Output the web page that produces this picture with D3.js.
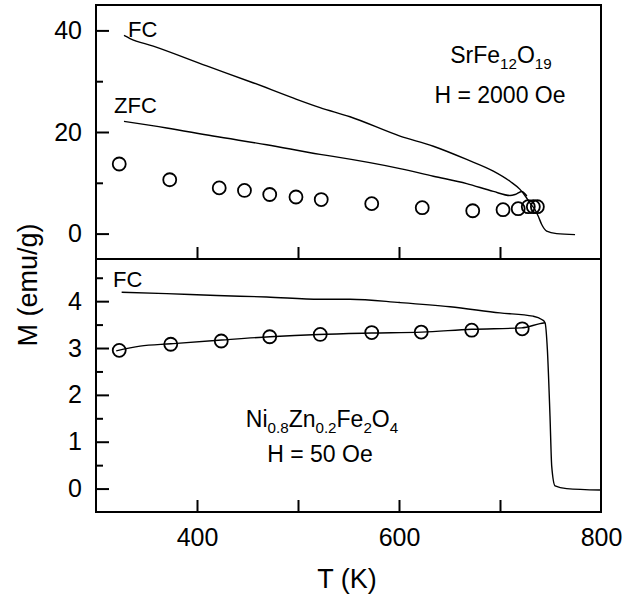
<!DOCTYPE html>
<html>
<head>
<meta charset="utf-8">
<script src="https://cdn.jsdelivr.net/npm/d3@7"></script>
<style>
  body { margin: 0; background: #fff; }
  svg text { font-family: 'Liberation Sans', Arial, Helvetica, sans-serif; fill: #000; }
</style>
</head>
<body>
<div id="graph"></div>
<script>
// SrFe12O19, H = 2000 Oe (upper panel)
const srFcT = [327.7, 333.7, 356.7, 409.6, 455.4, 495, 521.8, 551.5, 601, 634, 667, 693.4, 709.9, 719.8, 725.7, 729.7, 734.7, 737.9, 741.3, 746.2, 756.1, 774.3]
const srFcM = [39.0, 38.4, 36.9, 33.0, 29.7, 26.7, 24.8, 23.0, 19.2, 17.2, 14.6, 12.3, 10.3, 8.7, 7.2, 6.0, 4.7, 3.4, 1.8, 0.5, 0.0, -0.2]
const srZfcT = [327.7, 370, 415.8, 469, 521.8, 534.7, 601, 634, 667, 693.4, 709.9, 714.9, 721.5, 726.6]
const srZfcM = [22.1, 20.8, 19.2, 17.5, 15.6, 15.2, 12.8, 11.3, 9.85, 8.3, 7.5, 7.7, 8.3, 7.4]
const srDotT = [323, 373, 422, 447, 472, 498, 523, 573, 623, 673, 703, 718, 728, 733, 737]
const srDotM = [13.7, 10.6, 9.0, 8.5, 7.7, 7.2, 6.7, 5.9, 5.1, 4.5, 4.7, 4.9, 5.3, 5.3, 5.3]

// Ni0.8Zn0.2Fe2O4, H = 50 Oe (lower panel)
const niFcT = [325.4, 370, 419.5, 469, 521.8, 551.5, 601, 650.5, 700, 732.7, 741.3, 744.6, 746.9, 749.5, 751.2, 754.5, 766, 799]
const niFcM = [4.19, 4.16, 4.12, 4.09, 4.04, 4.04, 3.97, 3.88, 3.75, 3.68, 3.61, 3.54, 2.97, 1.55, 0.48, 0.06, 0.0, -0.03]
const niZfcT = [320, 343.6, 374.3, 424.5, 472.3, 520.1, 573, 622.5, 672, 721.5, 739.6, 744.6]
const niZfcM = [2.94, 3.04, 3.09, 3.17, 3.24, 3.29, 3.32, 3.34, 3.40, 3.43, 3.52, 3.54]
const niDotT = [323, 374, 424, 472, 522, 573, 622, 672, 722]
const niDotM = [2.95, 3.08, 3.15, 3.24, 3.29, 3.33, 3.34, 3.38, 3.41]

// ticks
const xTicks = [400, 500, 600, 700]
const xLabels = [400, 600, 800]
const topMajor = [0, 20, 40]
const topMinor = [10, 30]
const botMajor = [0, 1, 2, 3, 4]
const botMinor = [0.5, 1.5, 2.5, 3.5, 4.5]

const width = 634; const height = 603
const plotLeft = 96; const plotRight = 601; const plotTop = 5; const plotMid = 259; const plotBottom = 512

const svg = d3.select('#graph').append('svg')
  .attr('width', width).attr('height', height)

const x = d3.scaleLinear().domain([300, 800]).range([plotLeft, plotRight])
const yTop = d3.scaleLinear().domain([-5, 45]).range([plotMid, plotTop])
const yBot = d3.scaleLinear().domain([-0.5, 4.9]).range([plotBottom, plotMid])

// frames first, everything else on top
svg.append('rect').attr('x', plotLeft).attr('y', plotTop)
  .attr('width', plotRight - plotLeft).attr('height', plotMid - plotTop)
  .style('fill', 'none').attr('stroke', '#000').attr('stroke-width', 2)
svg.append('rect').attr('x', plotLeft).attr('y', plotMid)
  .attr('width', plotRight - plotLeft).attr('height', plotBottom - plotMid)
  .style('fill', 'none').attr('stroke', '#000').attr('stroke-width', 2)

// axes: inward ticks, labels outside
function styleAxis (g) {
  g.select('.domain').remove()
  g.selectAll('.tick line').attr('stroke', '#000').attr('stroke-width', 2)
  g.selectAll('.tick text').style('font-size', '25px').attr('fill', '#000')
}
const fmt = d3.format('d')
svg.append('g').attr('transform', 'translate(' + plotLeft + ',0)')
  .call(d3.axisLeft(yTop).tickValues(topMajor).tickSize(-13).tickPadding(14).tickFormat(fmt))
  .call(styleAxis)
svg.append('g').attr('transform', 'translate(' + plotLeft + ',0)')
  .call(d3.axisLeft(yTop).tickValues(topMinor).tickSize(-7).tickFormat(''))
  .call(styleAxis)
svg.append('g').attr('transform', 'translate(0,' + plotMid + ')')
  .call(d3.axisBottom(x).tickValues(xTicks).tickSize(-12).tickFormat(''))
  .call(styleAxis)
svg.append('g').attr('transform', 'translate(' + plotLeft + ',0)')
  .call(d3.axisLeft(yBot).tickValues(botMajor).tickSize(-13).tickPadding(14).tickFormat(fmt))
  .call(styleAxis)
svg.append('g').attr('transform', 'translate(' + plotLeft + ',0)')
  .call(d3.axisLeft(yBot).tickValues(botMinor).tickSize(-7).tickFormat(''))
  .call(styleAxis)
svg.append('g').attr('transform', 'translate(0,' + plotBottom + ')')
  .call(d3.axisBottom(x).tickValues(xTicks).tickSize(-12).tickFormat(''))
  .call(styleAxis)
svg.append('g').attr('transform', 'translate(0,' + plotBottom + ')')
  .call(d3.axisBottom(x).tickValues(xLabels).tickSize(0).tickPadding(16).tickFormat(fmt))
  .call(styleAxis)

// curves
function drawCurve (ts, ms, y) {
  const line = d3.line().x(d => x(d[0])).y(d => y(d[1])).curve(d3.curveMonotoneX)
  svg.append('path').datum(d3.zip(ts, ms))
    .attr('d', line).attr('fill', 'none')
    .attr('stroke', '#000').attr('stroke-width', 1.4)
}
function drawDots (ts, ms, y) {
  svg.append('g').selectAll('circle')
    .data(d3.zip(ts, ms)).enter().append('circle')
    .attr('cx', d => x(d[0])).attr('cy', d => y(d[1])).attr('r', 6.5)
    .attr('fill', 'none').attr('stroke', '#000').attr('stroke-width', 1.8)
}

drawCurve(srFcT, srFcM, yTop)
drawCurve(srZfcT, srZfcM, yTop)
drawDots(srDotT, srDotM, yTop)
drawCurve(niFcT, niFcM, yBot)
drawCurve(niZfcT, niZfcM, yBot)
drawDots(niDotT, niDotM, yBot)

// annotations
function label (tx, ty, parts, size, anchor) {
  const t = svg.append('text').attr('x', tx).attr('y', ty)
    .attr('text-anchor', anchor || 'start').style('font-size', size + 'px')
  let shifted = false
  parts.forEach(p => {
    const sub = typeof p !== 'string'
    const s = t.append('tspan').text(sub ? p.sub : p)
    if (sub) {
      s.style('font-size', (size * 0.66) + 'px')
      if (!shifted) { s.attr('dy', 6); shifted = true }
    } else if (shifted) {
      s.attr('dy', -6); shifted = false
    }
  })
}

label(128, 37, ['FC'], 22)
label(114, 113, ['ZFC'], 22)
label(501, 63, ['SrFe', { sub: '12' }, 'O', { sub: '19' }], 23, 'middle')
label(500, 103, ['H = 2000 Oe'], 23, 'middle')
label(113, 287, ['FC'], 22)
label(322, 427, ['Ni', { sub: '0.8' }, 'Zn', { sub: '0.2' }, 'Fe', { sub: '2' }, 'O', { sub: '4' }], 23, 'middle')
label(320, 462, ['H = 50 Oe'], 23, 'middle')

// axis titles
svg.append('text').attr('transform', 'translate(37,285) rotate(-90)')
  .attr('text-anchor', 'middle').style('font-size', '27px').text('M (emu/g)')
svg.append('text').attr('x', 347).attr('y', 588)
  .attr('text-anchor', 'middle').style('font-size', '27px').text('T (K)')
</script>
</body>
</html>
